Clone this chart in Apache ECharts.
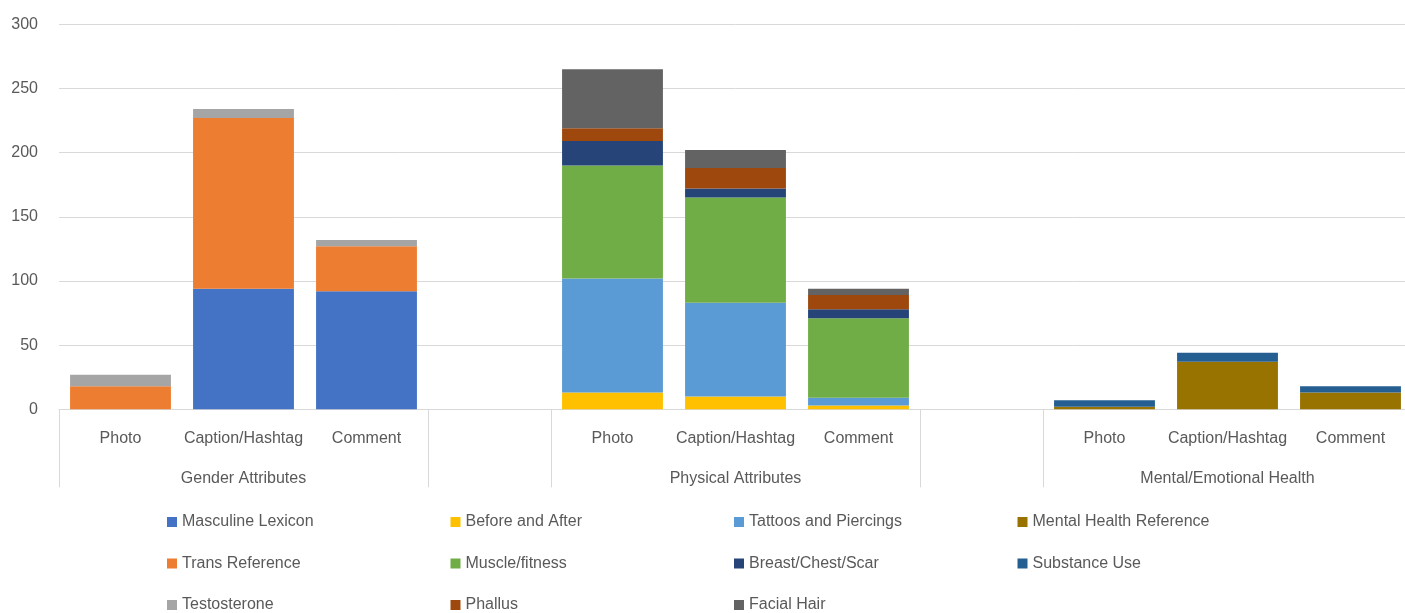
<!DOCTYPE html>
<html>
<head>
<meta charset="utf-8">
<script src="https://cdn.jsdelivr.net/npm/echarts@6/dist/echarts.min.js"></script>
<style>
  html, body { margin: 0; padding: 0; background: #ffffff; overflow: hidden; }
  /* plot area runs slightly past the right edge of the window */
  #chart { width: 1412px; height: 613px; }
</style>
</head>
<body>
<div id="chart"></div>
<script>
// Slots along the x axis: three groups of three, with an empty slot between groups
const subCategories = ['Photo', 'Caption/Hashtag', 'Comment', '',
                       'Photo', 'Caption/Hashtag', 'Comment', '',
                       'Photo', 'Caption/Hashtag', 'Comment'];
const groupLabels = ['', 'Gender Attributes', '', '',
                     '', 'Physical Attributes', '', '',
                     '', 'Mental/Emotional Health', ''];
const groupBoundaries = [0, 3, 4, 7, 8];
const yTicks = [0, 50, 100, 150, 200, 250, 300];

// Series values (one value per slot)
const masculineLexicon   = [0, 94, 92, 0, 0, 0, 0, 0, 0, 0, 0];
const beforeAndAfter     = [0, 0, 0, 0, 13, 10, 3, 0, 0, 0, 0];
const tattoosPiercings   = [0, 0, 0, 0, 89, 73, 6, 0, 0, 0, 0];
const mentalHealthRef    = [0, 0, 0, 0, 0, 0, 0, 0, 2, 37, 13];
const transReference     = [18, 133, 35, 0, 0, 0, 0, 0, 0, 0, 0];
const muscleFitness      = [0, 0, 0, 0, 88, 82, 62, 0, 0, 0, 0];
const breastChestScar    = [0, 0, 0, 0, 19, 7, 7, 0, 0, 0, 0];
const substanceUse       = [0, 0, 0, 0, 0, 0, 0, 0, 5, 7, 5];
const testosterone       = [9, 7, 5, 0, 0, 0, 0, 0, 0, 0, 0];
const phallus            = [0, 0, 0, 0, 10, 16, 11, 0, 0, 0, 0];
const facialHair         = [0, 0, 0, 0, 46, 14, 5, 0, 0, 0, 0];

const seriesDefs = [
  ['Masculine Lexicon', masculineLexicon, '#4472C4'],
  ['Before and After', beforeAndAfter, '#FFC000'],
  ['Tattoos and Piercings', tattoosPiercings, '#5B9BD5'],
  ['Mental Health Reference', mentalHealthRef, '#997300'],
  ['Trans Reference', transReference, '#ED7D31'],
  ['Muscle/fitness', muscleFitness, '#70AD47'],
  ['Breast/Chest/Scar', breastChestScar, '#264478'],
  ['Substance Use', substanceUse, '#255E91'],
  ['Testosterone', testosterone, '#A5A5A5'],
  ['Phallus', phallus, '#9E480E'],
  ['Facial Hair', facialHair, '#636363']
];

const FONT = '"Liberation Sans", Arial, sans-serif';
const TEXT = '#595959';
const GRID = '#D9D9D9';

// Legend laid out as a 4-column grid, one entry per cell
const legends = seriesDefs.map((d, i) => ({
  data: [d[0]],
  left: 167 + (i % 4) * 283.5,
  top: 514 + Math.floor(i / 4) * 41.5,
  itemWidth: 10,
  itemHeight: 10,
  itemGap: 0,
  icon: 'rect',
  padding: 0,
  selectedMode: false,
  textStyle: { fontFamily: FONT, fontSize: 16, color: TEXT, padding: [0, 0, 0, 0] }
}));

const chart = echarts.init(document.getElementById('chart'), null, { renderer: 'canvas' });
chart.setOption({
  animation: false,
  backgroundColor: '#ffffff',
  grid: { left: 59, right: 0, top: 24.3, bottom: 203.7, containLabel: false },
  legend: legends,
  xAxis: [
    {
      type: 'category',
      data: subCategories,
      position: 'bottom',
      axisLine: { show: true, lineStyle: { color: GRID, width: 1 } },
      axisTick: { show: false },
      axisLabel: { interval: 0, margin: 21, fontFamily: FONT, fontSize: 16, color: TEXT }
    },
    {
      type: 'category',
      data: groupLabels,
      position: 'bottom',
      offset: 0,
      axisLine: { show: false },
      axisTick: {
        show: true,
        length: 78,
        interval: (i) => groupBoundaries.includes(i),
        lineStyle: { color: GRID, width: 1 }
      },
      axisLabel: { interval: 0, margin: 61, fontFamily: FONT, fontSize: 16, color: TEXT }
    }
  ],
  yAxis: {
    type: 'value',
    min: yTicks[0],
    max: yTicks[yTicks.length - 1],
    interval: 50,
    axisLine: { show: false },
    axisTick: { show: false },
    splitLine: { lineStyle: { color: GRID, width: 1 } },
    axisLabel: { margin: 21, fontFamily: FONT, fontSize: 16, color: TEXT }
  },
  series: seriesDefs.map(([name, values, color]) => ({
    name: name,
    type: 'bar',
    stack: 'total',
    xAxisIndex: 0,
    barWidth: '82%',
    data: values,
    itemStyle: { color: color }
  }))
});
</script>
</body>
</html>
